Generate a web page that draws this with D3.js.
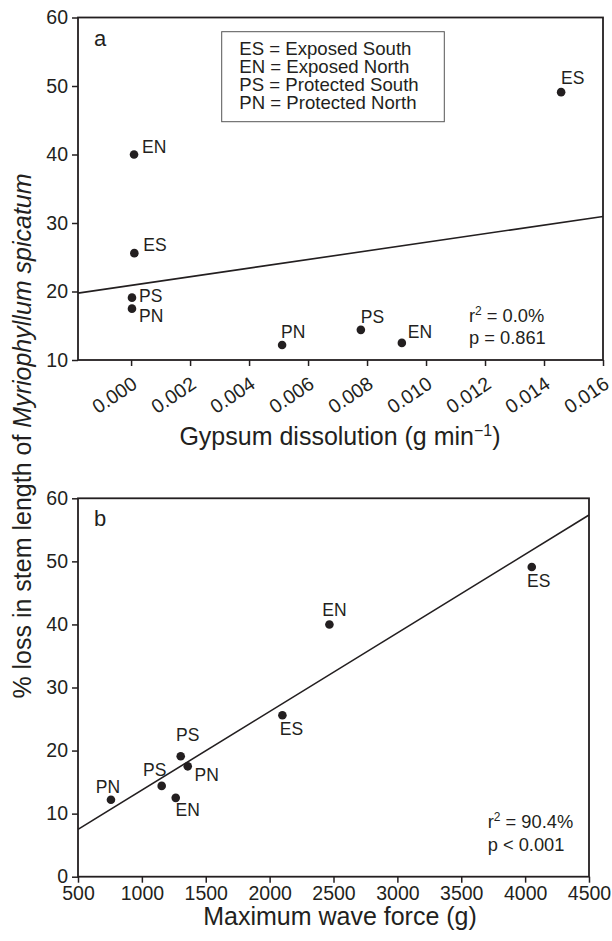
<!DOCTYPE html>
<html>
<head>
<meta charset="utf-8">
<script src="https://cdn.jsdelivr.net/npm/d3@7"></script>
<style>
body { margin: 0; background: #fff; }
svg { display: block; font-family: "Liberation Sans", Arial, Helvetica, sans-serif; fill: #231f20; }
</style>
</head>
<body>
<svg id="chart" width="612" height="941"></svg>
<script>
// same sample order in both panels
var sites = ['EN', 'ES', 'ES', 'PS', 'PN', 'PN', 'PS', 'EN'];
var stemLoss = [40, 49.1, 25.6, 19.1, 17.5, 12.2, 14.4, 12.5];
var gypsum = [0.0001, 0.01458, 0.00011, 0.00003, 0.00003, 0.00512, 0.00779, 0.00918];
var waveForce = [2468, 4052, 2100, 1304, 1359, 758, 1155, 1265];

var gypsumTicks = [0, 0.002, 0.004, 0.006, 0.008, 0.010, 0.012, 0.014, 0.016];
var forceTicks = [500, 1000, 1500, 2000, 2500, 3000, 3500, 4000, 4500];
var lossTicksA = [10, 20, 30, 40, 50, 60];
var lossTicksB = [0, 10, 20, 30, 40, 50, 60];

var legendLines = ['ES = Exposed South', 'EN = Exposed North', 'PS = Protected South', 'PN = Protected North'];
var statsA = ['= 0.0%', 'p = 0.861'];
var statsB = ['= 90.4%', 'p < 0.001'];

var ink = '#231f20';
var svg = d3.select('#chart');

// label offsets from each dot
var offsA = [[8, -2], [0, -8], [9, -2], [7, 4], [7, 13], [-1, -7], [0, -7], [6, -5]];
var offsB = [[5, -8], [7, 20], [9, 20], [7, -15], [19, 15], [-3, -7], [-7, -10], [12, 18]];

function fit(xs, ys) {
    var mx = d3.mean(xs), my = d3.mean(ys);
    var sxy = d3.sum(xs, function (d, i) { return (d - mx) * (ys[i] - my); });
    var sxx = d3.sum(xs, function (d) { return (d - mx) * (d - mx); });
    var slope = sxy / sxx;
    return function (x) { return my + slope * (x - mx); };
}

function panel(opts) {
    var g = svg.append('g');
    var x = d3.scaleLinear().domain(opts.xDomain).range(opts.xRange);
    var y = d3.scaleLinear().domain(opts.yDomain).range(opts.yRange);

    // axes
    var xa = g.append('g').attr('transform', 'translate(0,' + opts.yRange[0] + ')')
        .call(d3.axisBottom(x).tickValues(opts.xTicks).tickSize(6).tickPadding(3).tickFormat(opts.xFormat));
    var ya = g.append('g').attr('transform', 'translate(' + opts.xRange[0] + ',0)')
        .call(d3.axisLeft(y).tickValues(opts.yTicks).tickSize(6).tickPadding(4));
    [xa, ya].forEach(function (a) {
        a.select('.domain').remove();
        a.selectAll('.tick line').attr('stroke', ink).attr('stroke-width', 1.5);
        a.selectAll('.tick text').attr('fill', ink).style('font-size', '19.5px').style('font-family', 'inherit');
    });
    if (opts.rotate) {
        xa.selectAll('.tick text')
            .attr('x', 0).attr('y', 0).attr('dy', 0)
            .attr('text-anchor', 'end')
            .attr('transform', 'translate(7,27) rotate(-34)');
    }

    // frame
    g.append('rect')
        .attr('x', opts.xRange[0]).attr('y', opts.yRange[1])
        .attr('width', opts.xRange[1] - opts.xRange[0])
        .attr('height', opts.yRange[0] - opts.yRange[1])
        .attr('fill', 'none').attr('stroke', ink).attr('stroke-width', 1.8);

    // regression line
    var f = fit(opts.xs, opts.ys);
    g.append('path')
        .datum(opts.xDomain)
        .attr('d', d3.line().x(function (d) { return x(d); }).y(function (d) { return y(f(d)); }))
        .attr('fill', 'none').attr('stroke', ink).attr('stroke-width', 1.6);

    // points
    g.selectAll('circle.pt').data(opts.xs).enter().append('circle')
        .attr('class', 'pt')
        .attr('cx', function (d) { return x(d); })
        .attr('cy', function (d, i) { return y(opts.ys[i]); })
        .attr('r', 4.3).attr('fill', ink);

    g.selectAll('text.lbl').data(sites).enter().append('text')
        .attr('class', 'lbl')
        .attr('x', function (d, i) { return x(opts.xs[i]) + opts.offs[i][0]; })
        .attr('y', function (d, i) { return y(opts.ys[i]) + opts.offs[i][1]; })
        .attr('text-anchor', opts.labelAnchor)
        .style('font-size', '17.5px')
        .text(function (d) { return d; });

    // panel letter
    g.append('text').attr('x', opts.xRange[0] + 16).attr('y', opts.yRange[1] + opts.letterDy)
        .style('font-size', '22px').text(opts.letter);

    // stats
    var st = g.append('text').attr('x', opts.statsX).attr('y', opts.statsY).style('font-size', '18.3px');
    st.append('tspan').text('r');
    st.append('tspan').attr('dy', -7).style('font-size', '12px').text('2');
    st.append('tspan').attr('dy', 7).text(' ' + opts.stats[0]);
    g.append('text').attr('x', opts.statsX).attr('y', opts.statsY + 22.5).style('font-size', '18.3px').text(opts.stats[1]);

    return g;
}

panel({
    xs: gypsum, ys: stemLoss,
    xDomain: [-0.0018, 0.016], xRange: [78, 603],
    yDomain: [10, 60], yRange: [360, 17.5],
    xTicks: gypsumTicks, yTicks: lossTicksA,
    xFormat: d3.format('.3f'), rotate: true,
    offs: offsA, labelAnchor: 'start',
    letter: 'a', letterDy: 28,
    stats: statsA, statsX: 469, statsY: 321.7
});

panel({
    xs: waveForce, ys: stemLoss,
    xDomain: [500, 4500], xRange: [78, 589],
    yDomain: [0, 60], yRange: [876.7, 498.3],
    xTicks: forceTicks, yTicks: lossTicksB,
    xFormat: d3.format('d'), rotate: false,
    offs: offsB, labelAnchor: 'middle',
    letter: 'b', letterDy: 28,
    stats: statsB, statsX: 487.7, statsY: 828.3
});

// legend in panel a
svg.append('rect').attr('x', 221.7).attr('y', 31.7).attr('width', 222.6).attr('height', 90)
    .attr('fill', 'none').attr('stroke', '#555').attr('stroke-width', 1);
svg.selectAll('text.leg').data(legendLines).enter().append('text')
    .attr('class', 'leg')
    .attr('x', 239.3)
    .attr('y', function (d, i) { return 55 + i * 18; })
    .style('font-size', '18.6px')
    .text(function (d) { return d; });

// axis titles
var ta = svg.append('text').attr('x', 340).attr('y', 445).attr('text-anchor', 'middle').style('font-size', '25px');
ta.append('tspan').text('Gypsum dissolution (g min');
ta.append('tspan').attr('dy', -9).style('font-size', '16px').text('\u22121');
ta.append('tspan').attr('dy', 9).text(')');

svg.append('text').attr('x', 340).attr('y', 925).attr('text-anchor', 'middle').style('font-size', '25px')
    .text('Maximum wave force (g)');

var ty = svg.append('text').attr('transform', 'translate(31,436) rotate(-90)')
    .attr('text-anchor', 'middle').style('font-size', '25px');
ty.append('tspan').text('% loss in stem length of ');
ty.append('tspan').style('font-style', 'italic').text('Myriophyllum spicatum');
</script>
</body>
</html>
